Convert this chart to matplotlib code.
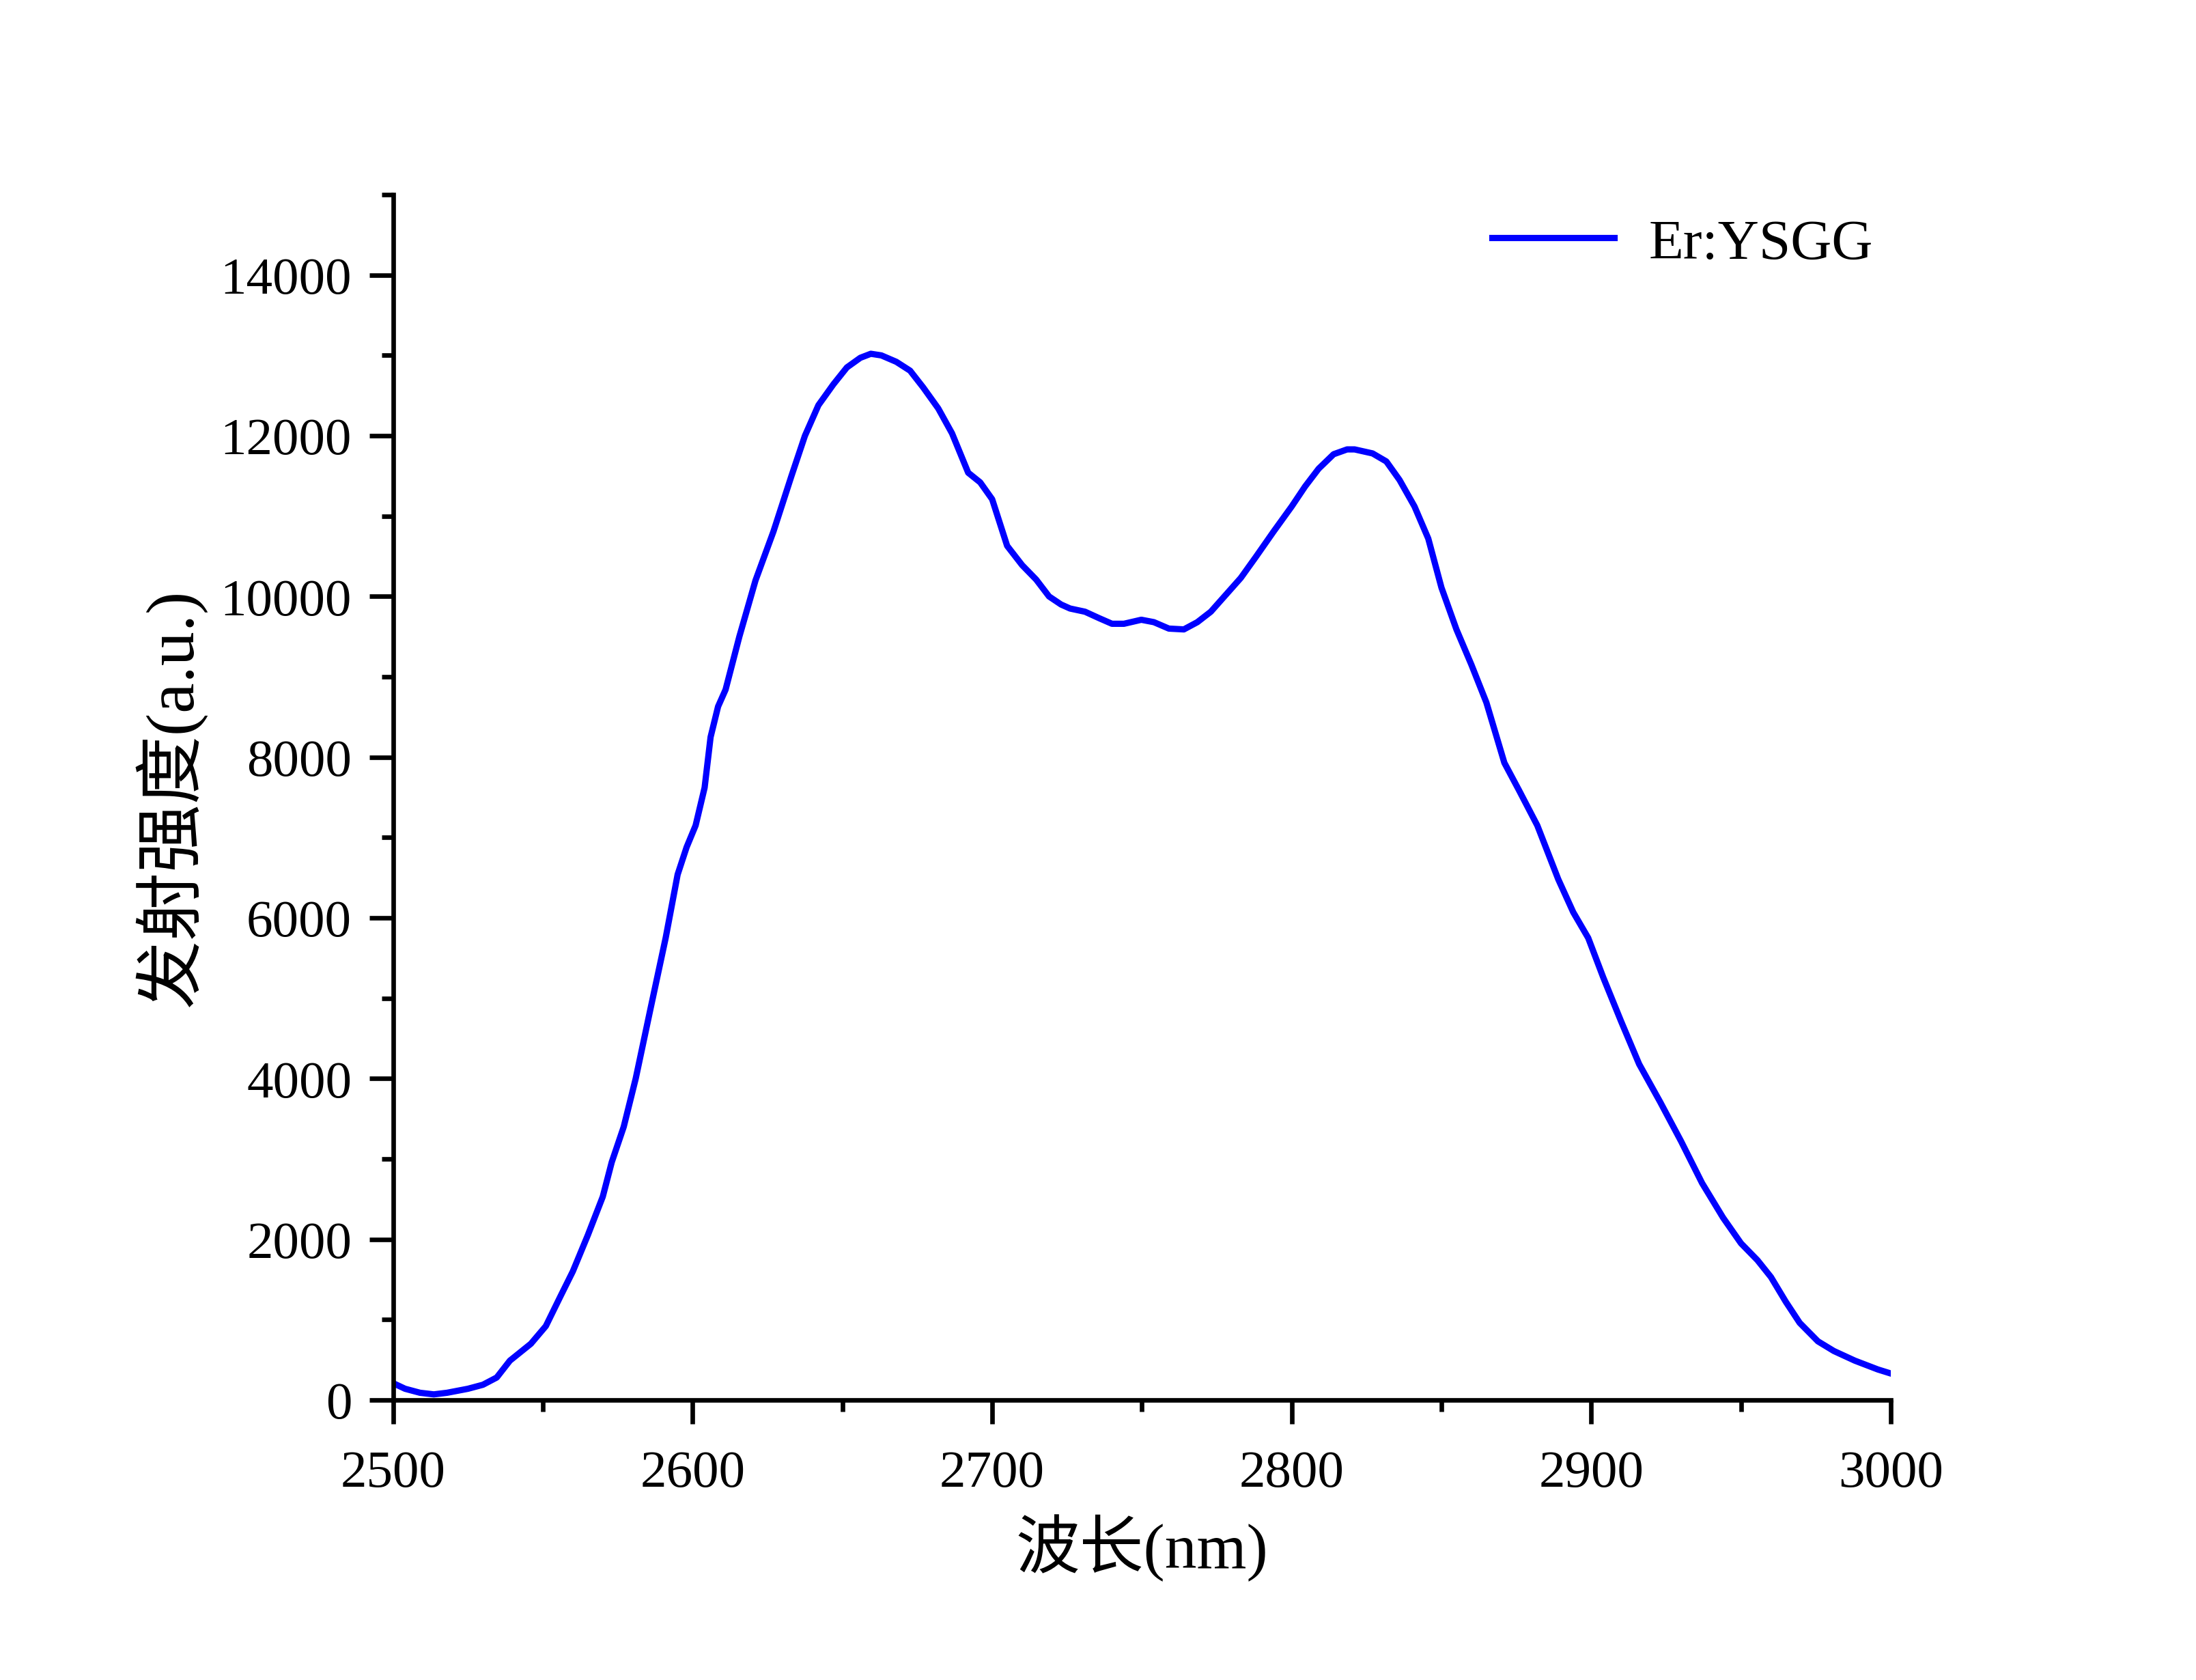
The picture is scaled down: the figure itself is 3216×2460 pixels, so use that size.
import matplotlib
matplotlib.use("Agg")
import matplotlib.pyplot as plt
from matplotlib.ticker import MultipleLocator

plt.rcParams['font.family'] = ['Liberation Serif', 'Noto Sans CJK SC', 'DejaVu Sans']

wavelength = [2500, 2504, 2509, 2513.6, 2518, 2525, 2530, 2534.6, 2539, 2546, 2551, 2556,
              2560, 2565, 2570, 2573, 2577, 2581, 2586, 2591, 2595, 2598, 2601, 2604,
              2606, 2608.5, 2611, 2615.6, 2621, 2627, 2633, 2637.5, 2642, 2647, 2651.5,
              2656, 2659.5, 2663, 2668, 2672.6, 2677, 2682, 2686.6, 2692, 2696, 2700,
              2705, 2710, 2714.7, 2719, 2723, 2726, 2731, 2735.7, 2740, 2744, 2749.8,
              2754, 2759, 2764, 2768.5, 2773, 2778, 2783, 2788, 2794, 2800, 2804.5, 2809,
              2814, 2818.5, 2821, 2827, 2831.6, 2836, 2841, 2845.6, 2850, 2855, 2860,
              2865, 2871, 2876, 2882, 2889, 2894, 2899, 2904, 2910, 2916, 2923, 2930,
              2937, 2944, 2950, 2955.5, 2960, 2965, 2969.6, 2975.7, 2981, 2988, 2995.7, 3000]
intensity = [210, 140, 90, 70, 90, 140, 190, 280, 490, 700, 920, 1300,
             1600, 2050, 2530, 2960, 3400, 4000, 4880, 5750, 6540, 6880, 7150, 7620,
             8250, 8630, 8840, 9500, 10200, 10810, 11500, 12000, 12380, 12640, 12850,
             12970, 13020, 13000, 12920, 12810, 12600, 12340, 12030, 11540, 11420, 11210,
             10630, 10390, 10210, 10000, 9900, 9850, 9810, 9730, 9660, 9660, 9710,
             9680, 9600, 9590, 9680, 9810, 10020, 10230, 10490, 10810, 11120, 11370, 11590,
             11770, 11830, 11830, 11780, 11680, 11450, 11120, 10720, 10110, 9590, 9150,
             8680, 7930, 7580, 7150, 6480, 6070, 5750, 5260, 4710, 4180, 3710, 3220,
             2700, 2270, 1950, 1740, 1530, 1220, 960, 730, 610, 490, 380, 330]
series_label = "Er:YSGG"
x_label = "波长(nm)"
y_label = "发射强度(a.u.)"

fig = plt.figure(figsize=(10.72, 8.203), dpi=300)
ax = fig.add_axes([0.179, 0.1666, 0.682, 0.7172])
ax.plot(wavelength, intensity, color='#0000ff', lw=2.2, label=series_label,
        solid_joinstyle='round')

ax.set_xlim(2500, 3000)
ax.set_ylim(0, 15000)
ax.xaxis.set_major_locator(MultipleLocator(100))
ax.xaxis.set_minor_locator(MultipleLocator(50))
ax.yaxis.set_major_locator(MultipleLocator(2000))
ax.yaxis.set_minor_locator(MultipleLocator(1000))

for s in ['top', 'right']:
    ax.spines[s].set_visible(False)
for s in ['left', 'bottom']:
    ax.spines[s].set_linewidth(1.6)

ax.tick_params(which='major', direction='out', length=8.5, width=1.6, labelsize=18.5)
ax.tick_params(axis='x', which='major', pad=9)
ax.tick_params(axis='y', which='major', pad=6)
ax.tick_params(which='minor', direction='out', length=4, width=1.6)

ax.set_xlabel(x_label, fontsize=22.5, labelpad=6)
ax.set_ylabel(y_label, fontsize=24, labelpad=5)

leg = ax.legend(loc='center right', bbox_to_anchor=(0.988, 0.959), frameon=False,
                fontsize=20, handlelength=2.15, handletextpad=0.6,
                borderpad=0, borderaxespad=0)

fig.savefig("out.png", dpi=300)
